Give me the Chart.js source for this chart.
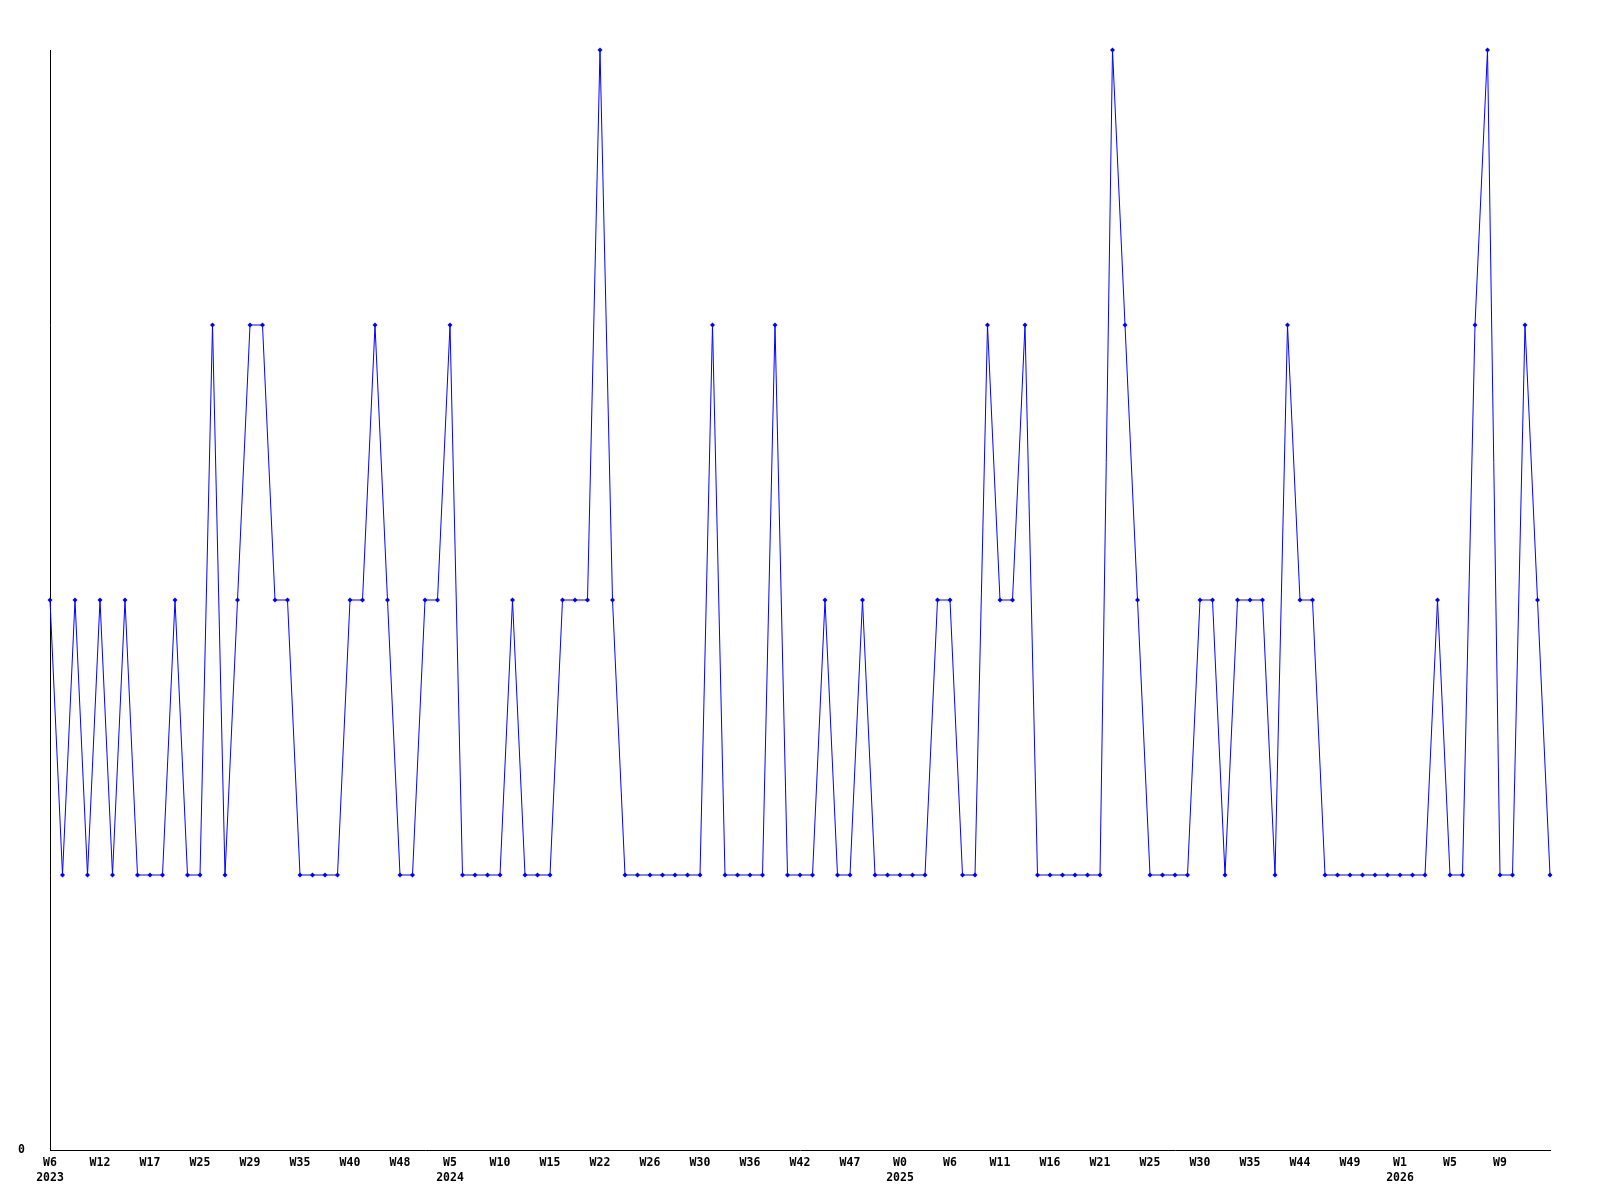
<!DOCTYPE html>
<html>
<head>
<meta charset="utf-8">
<title>Weekly chart</title>
<script src="https://cdn.jsdelivr.net/npm/chart.js@4.4.1/dist/chart.umd.min.js"></script>
<style>
    html, body { margin: 0; padding: 0; background: #ffffff; }
    #wrap { width: 1600px; height: 1200px; position: relative; }
</style>
</head>
<body>
<div id="wrap"><canvas id="weeklyChart"></canvas></div>
<script>
// one value per point
const values = [
    2, 1, 2, 1, 2, 1, 2, 1, 1, 1,
    2, 1, 1, 3, 1, 2, 3, 3, 2, 2,
    1, 1, 1, 1, 2, 2, 3, 2, 1, 1,
    2, 2, 3, 1, 1, 1, 1, 2, 1, 1,
    1, 2, 2, 2, 4, 2, 1, 1, 1, 1,
    1, 1, 1, 3, 1, 1, 1, 1, 3, 1,
    1, 1, 2, 1, 1, 2, 1, 1, 1, 1,
    1, 2, 2, 1, 1, 3, 2, 2, 3, 1,
    1, 1, 1, 1, 1, 4, 3, 2, 1, 1,
    1, 1, 2, 2, 1, 2, 2, 2, 1, 3,
    2, 2, 1, 1, 1, 1, 1, 1, 1, 1,
    1, 2, 1, 1, 3, 4, 1, 1, 3, 2,
    1
];

// a week label sits under every 4th point
const tickLabels = [
    'W6', 'W12', 'W17', 'W25', 'W29', 'W35', 'W40', 'W48', 'W5', 'W10',
    'W15', 'W22', 'W26', 'W30', 'W36', 'W42', 'W47', 'W0', 'W6', 'W11',
    'W16', 'W21', 'W25', 'W30', 'W35', 'W44', 'W49', 'W1', 'W5', 'W9'
];
const tickYears = [
    '2023', '', '', '', '', '', '', '', '2024', '',
    '', '', '', '', '', '', '', '2025', '', '',
    '', '', '', '', '', '', '', '2026', '', ''
];
const tickEvery = 4;
const yMax = 4;

const labels = values.map((v, i) => {
    const k = i / tickEvery;
    if (i % tickEvery !== 0 || k >= tickLabels.length) return '';
    return tickYears[k] ? [tickLabels[k], tickYears[k]] : tickLabels[k];
});

const tickFont = { family: 'DejaVu Sans Mono', size: 11.5, weight: 'bold', lineHeight: 1.3 };

const ctx = document.getElementById('weeklyChart').getContext('2d');
new Chart(ctx, {
    type: 'line',
    data: {
        labels: labels,
        datasets: [{
            data: values,
            borderColor: '#0000ff',
            backgroundColor: '#0000ff',
            borderWidth: 1,
            tension: 0,
            pointStyle: 'rectRot',
            pointRadius: 2.5,
            pointBorderWidth: 0,
            clip: false
        }]
    },
    options: {
        responsive: true,
        maintainAspectRatio: false,
        animation: false,
        layout: { padding: { top: 50, right: 50, left: 0, bottom: 0 } },
        plugins: {
            legend: { display: false },
            tooltip: { enabled: false }
        },
        scales: {
            x: {
                offset: false,
                grid: { display: false, drawTicks: false },
                border: { display: true, color: '#000000', width: 1 },
                ticks: {
                    autoSkip: false,
                    maxRotation: 0,
                    minRotation: 0,
                    padding: 6,
                    color: '#000000',
                    font: tickFont
                },
                afterFit: function(scale) { scale.height = 50; }
            },
            y: {
                min: 0,
                max: yMax,
                grid: { display: false, drawTicks: false },
                border: { display: true, color: '#000000', width: 1 },
                ticks: {
                    stepSize: 1,
                    padding: 25,
                    color: '#000000',
                    font: tickFont,
                    callback: function(value) { return value === 0 ? '0' : ''; }
                },
                afterFit: function(scale) { scale.width = 50; }
            }
        }
    }
});
</script>
</body>
</html>
